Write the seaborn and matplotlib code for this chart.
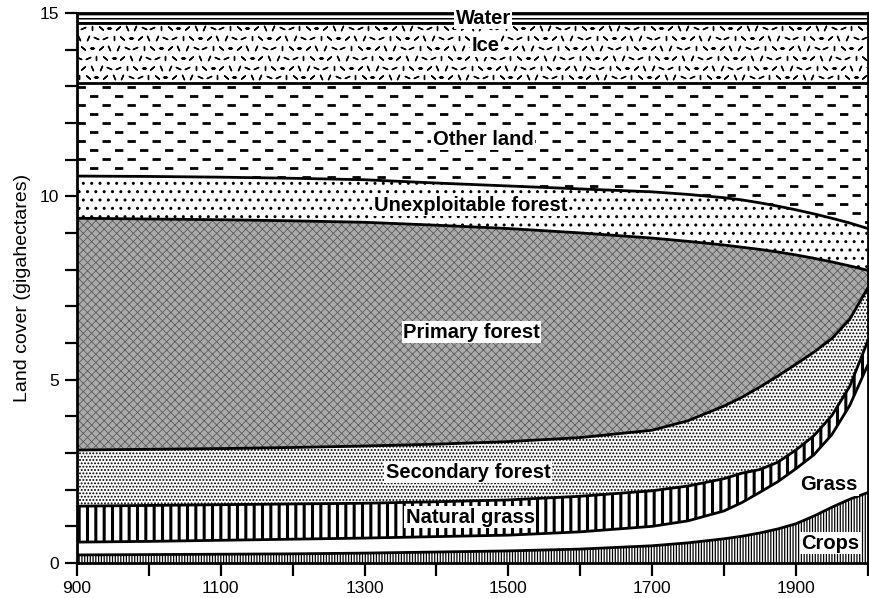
import numpy as np
import pandas as pd
import matplotlib
matplotlib.use("Agg")
import matplotlib.pyplot as plt
import seaborn as sns

# Global land cover by category (gigahectares), 900-2000
years = [900, 1000, 1100, 1200, 1300, 1400, 1500, 1600, 1700, 1750,
         1800, 1825, 1850, 1875, 1900, 1925, 1950, 1975, 2000]
crops = [0.22, 0.23, 0.24, 0.25, 0.27, 0.30, 0.33, 0.38, 0.47, 0.55,
         0.66, 0.73, 0.82, 0.93, 1.07, 1.28, 1.52, 1.74, 1.92]
grass = [0.35, 0.36, 0.38, 0.40, 0.41, 0.42, 0.43, 0.47, 0.53, 0.60,
         0.76, 0.92, 1.11, 1.29, 1.50, 1.67, 1.98, 2.56, 3.48]
natural_grass = [0.98, 0.98, 0.97, 0.96, 0.95, 0.95, 0.96, 0.97, 0.97, 0.95,
                 0.88, 0.80, 0.62, 0.53, 0.51, 0.52, 0.52, 0.52, 0.65]
secondary_forest = [1.53, 1.53, 1.53, 1.54, 1.56, 1.57, 1.59, 1.60, 1.65, 1.78,
                    1.98, 2.07, 2.25, 2.35, 2.34, 2.28, 2.10, 1.83, 1.45]
primary_forest = [6.32, 6.28, 6.24, 6.18, 6.10, 5.97, 5.81, 5.58, 5.24, 4.89,
                  4.39, 4.09, 3.75, 3.38, 2.98, 2.56, 2.09, 1.45, 0.48]
unexploitable_forest = [1.15, 1.16, 1.16, 1.16, 1.16, 1.15, 1.16, 1.20, 1.26, 1.28,
                        1.29, 1.29, 1.27, 1.25, 1.23, 1.21, 1.19, 1.17, 1.14]
other_land = [2.55, 2.56, 2.58, 2.61, 2.65, 2.74, 2.82, 2.90, 2.98, 3.05,
              3.14, 3.20, 3.28, 3.37, 3.47, 3.58, 3.70, 3.83, 3.98]
ice = [1.61, 1.61, 1.61, 1.61, 1.61, 1.61, 1.61, 1.61, 1.61, 1.61,
       1.61, 1.61, 1.61, 1.61, 1.61, 1.61, 1.61, 1.61, 1.61]
water = [0.29, 0.29, 0.29, 0.29, 0.29, 0.29, 0.29, 0.29, 0.29, 0.29,
         0.29, 0.29, 0.29, 0.29, 0.29, 0.29, 0.29, 0.29, 0.29]

layer_names = ["Crops", "Grass", "Natural grass", "Secondary forest", "Primary forest",
               "Unexploitable forest", "Other land", "Ice", "Water"]
layers = [crops, grass, natural_grass, secondary_forest, primary_forest,
          unexploitable_forest, other_land, ice, water]

x_major = [900, 1100, 1300, 1500, 1700, 1900]
x_minor = [1000, 1200, 1400, 1600, 1800, 2000]
y_major = [0, 5, 10, 15]
y_minor = list(range(0, 16))

sns.set_theme(style="ticks")
plt.rcParams["font.family"] = ["Liberation Sans", "DejaVu Sans"]
plt.rcParams["lines.scale_dashes"] = False

fig = plt.figure(figsize=(8.69, 5.98), dpi=100)
ax = fig.add_axes([0.0886, 0.0585, 0.9100, 0.9200])

# fill style per layer: face colour, hatch, hatch colour, hatch line width
fill_styles = [
    ("white", "||||||", "black", 0.9),     # crops
    ("white", None, "black", 1.0),         # grass
    ("white", "||", "black", 2.2),         # natural grass
    ("white", ".....", "black", 0.9),      # secondary forest
    ("#ababab", "xxxx", "#5c5c5c", 0.6),   # primary forest
    ("white", "..", "black", 1.0),         # unexploitable forest
    ("white", None, "black", 1.0),         # other land
    ("white", None, "black", 1.0),         # ice
    ("white", "----", "black", 1.1),       # water
]

polys = ax.stackplot(years, *layers, colors=[s[0] for s in fill_styles],
                     edgecolor="black", linewidth=0)
for poly, (fc, hatch, hc, hlw) in zip(polys, fill_styles):
    poly.set_edgecolor(hc)
    poly.set_linewidth(0)
    if hatch:
        poly.set_hatch(hatch)
        try:
            poly.set_hatch_linewidth(hlw)
        except AttributeError:
            plt.rcParams["hatch.linewidth"] = hlw

# dashed texture for "Other land"
other_path = polys[6].get_paths()[0]
for i, yrow in enumerate(np.arange(9.05, 13.1, 0.245)):
    line, = ax.plot([900, 2000], [yrow, yrow], color="black", lw=2.0,
                    ls=(9.0 if i % 2 else 0.0, (6.0, 12.0)),
                    dash_capstyle="butt", zorder=2)
    line.set_clip_path(other_path, transform=ax.transData)

# scattered short strokes for "Ice"
ice_path = polys[7].get_paths()[0]
angles = [0, 50, 90, 130, 25, 155, 65, 115]
xs = np.arange(903, 2000, 12.0)
ys = np.arange(13.24, 14.7, 0.27)
for a_idx, ang in enumerate(angles):
    px, py = [], []
    for j, yv in enumerate(ys):
        for i, xv in enumerate(xs):
            if (i + 3 * j) % len(angles) == a_idx:
                px.append(xv + (6.0 if j % 2 else 0.0))
                py.append(yv)
    sc = ax.scatter(px, py, marker=(2, 2, ang), s=12, linewidths=1.0,
                    color="black", zorder=2)
    sc.set_clip_path(ice_path, transform=ax.transData)

# boundary lines between the stacked layers
tops = np.cumsum(np.array(layers), axis=0)
boundary_df = pd.DataFrame({
    "year": np.tile(years, len(layers)),
    "level": tops.ravel(),
    "boundary": np.repeat(layer_names, len(years)),
})
sns.lineplot(data=boundary_df, x="year", y="level", units="boundary",
             estimator=None, color="black", linewidth=2.0, ax=ax,
             legend=False, zorder=3)

# in-area labels
label_pos = {
    "Water": (1465, 14.85),
    "Ice": (1468, 14.1),
    "Other land": (1465, 11.55),
    "Unexploitable forest": (1447, 9.76),
    "Primary forest": (1449, 6.29),
    "Secondary forest": (1444, 2.48),
    "Natural grass": (1447, 1.25),
    "Grass": (1946, 2.13),
    "Crops": (1948, 0.54),
}
for name, (lx, ly) in label_pos.items():
    ax.text(lx, ly, name, ha="center", va="center", fontsize=14.5,
            fontweight="bold", color="black", zorder=5,
            bbox=dict(facecolor="white", edgecolor="none", pad=1.0))

ax.set_xlim(900, 2000)
ax.set_ylim(0, 15)
ax.set_xticks(x_major)
ax.set_xticks(x_minor, minor=True)
ax.set_yticks(y_major)
ax.set_yticks(y_minor, minor=True)
ax.tick_params(which="both", direction="out", length=9, width=1.6,
               color="black", labelsize=12.5, labelcolor="black", pad=4)
ax.set_xlabel("")
ax.set_ylabel("Land cover (gigahectares)", fontsize=14, color="black", labelpad=6)
for side in ["left", "bottom", "right", "top"]:
    ax.spines[side].set_color("black")
    ax.spines[side].set_linewidth(2.0)
ax.grid(False)

fig.savefig("out.png", dpi=100)
